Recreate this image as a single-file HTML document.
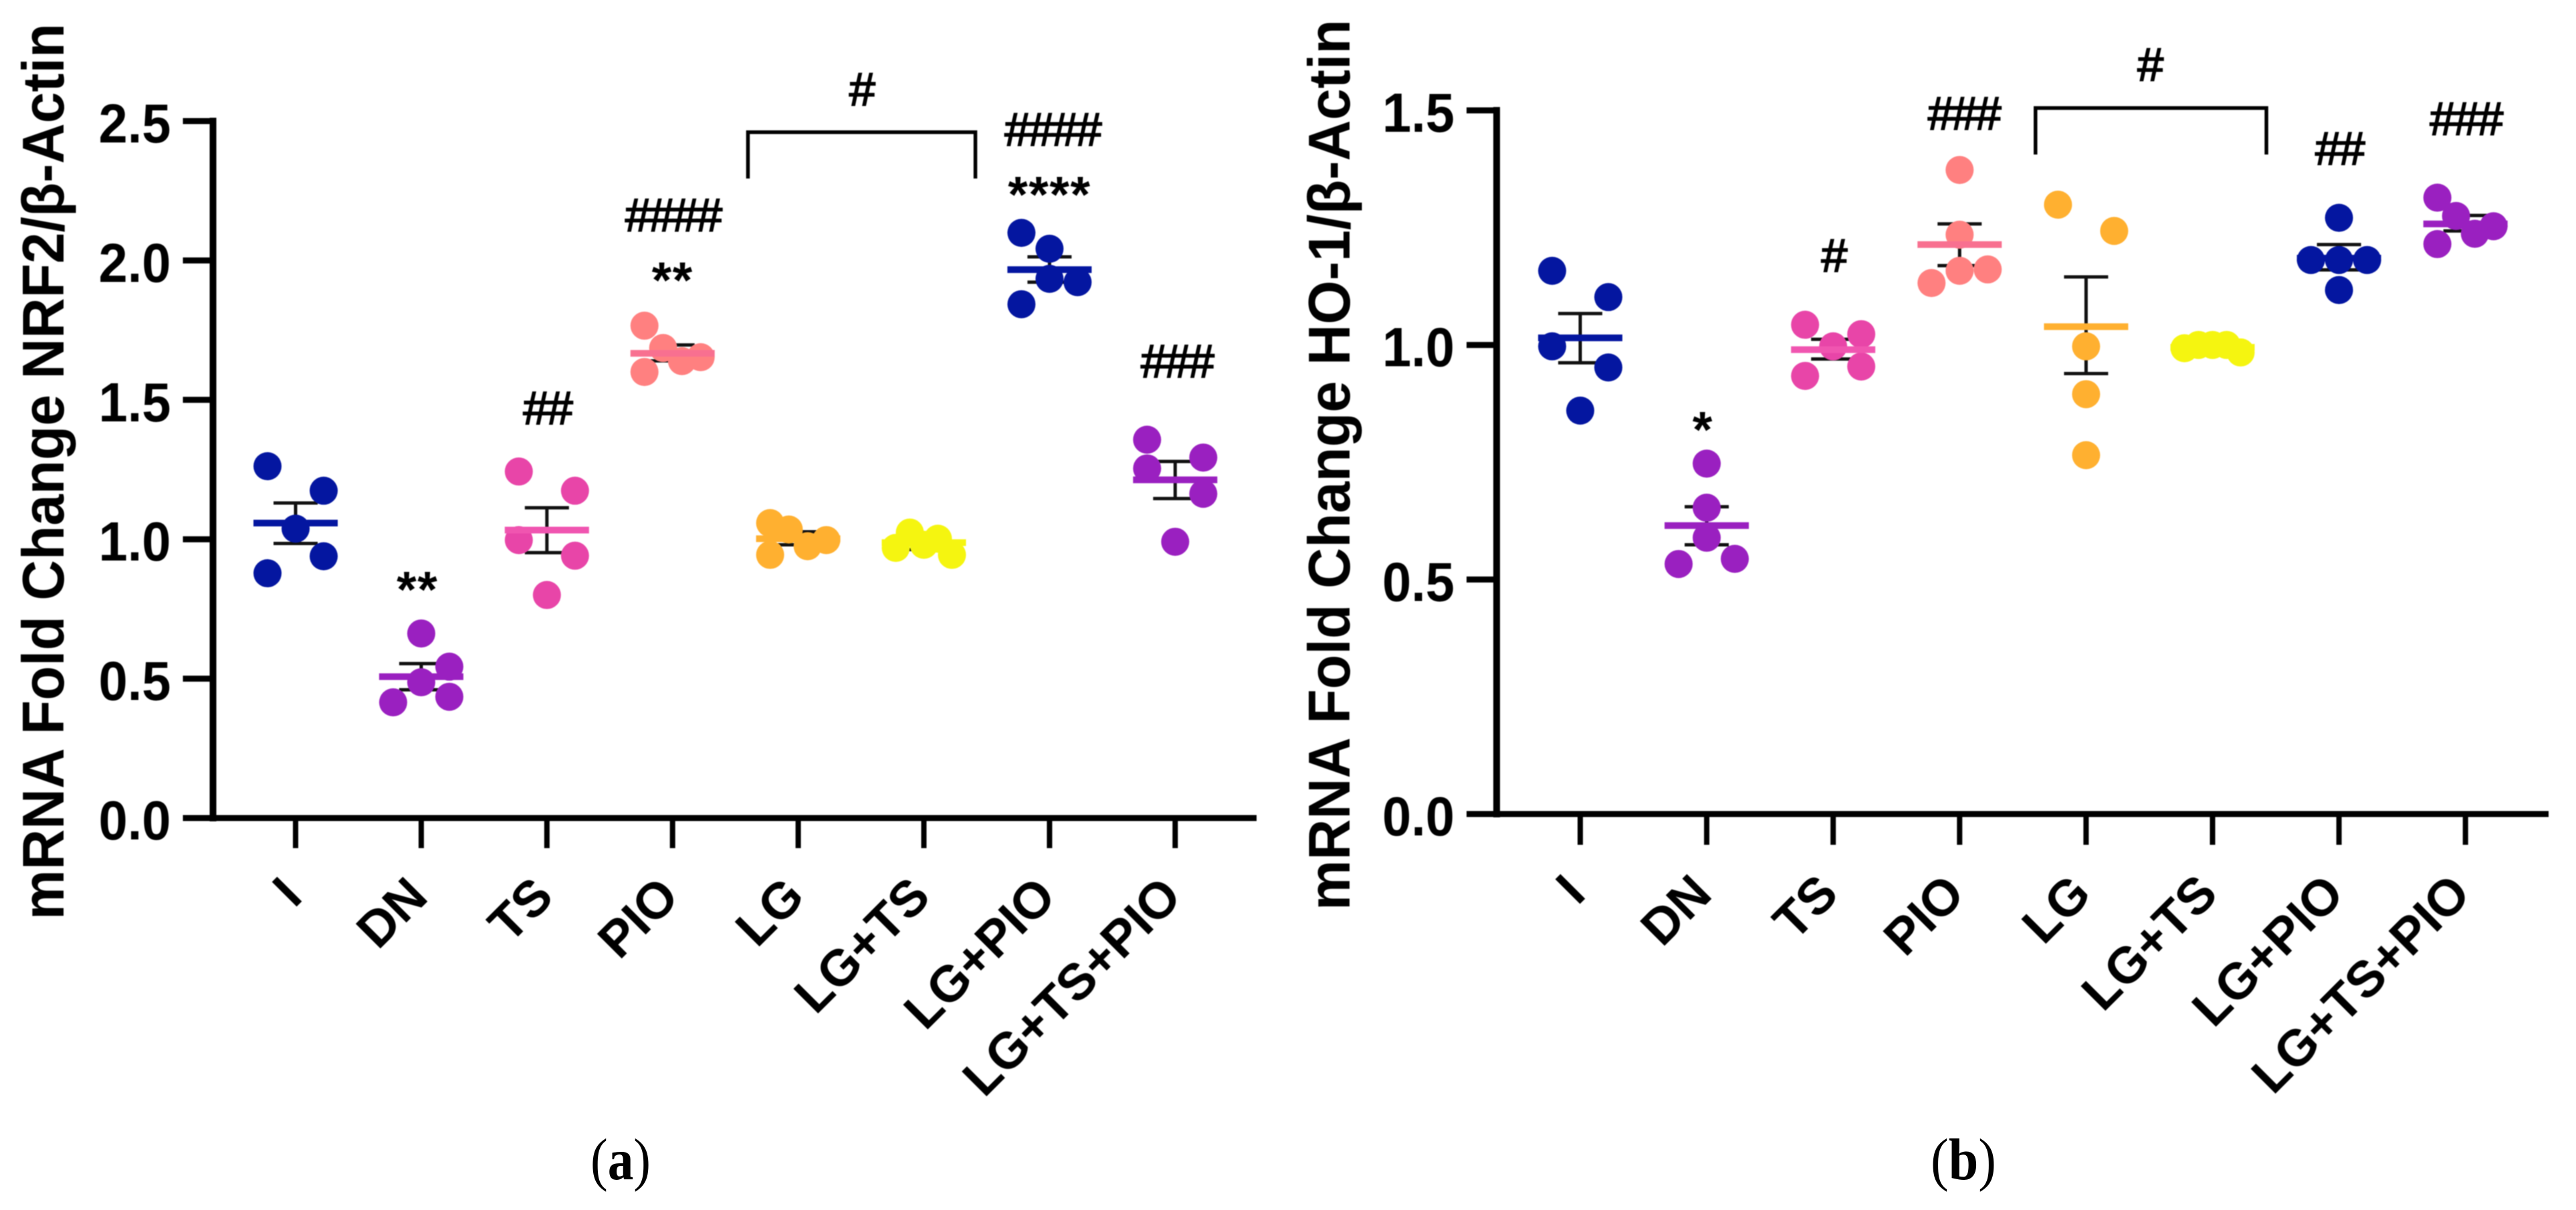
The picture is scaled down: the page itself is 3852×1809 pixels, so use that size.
<!DOCTYPE html>
<html lang="en">
<head>
<meta charset="utf-8">
<title>mRNA Fold Change Scatter Plots</title>
<style>
html,body{margin:0;padding:0;background:#fff;width:3852px;height:1809px;overflow:hidden}
svg{display:block}
text{font-family:"Liberation Sans",sans-serif;fill:#000}
.tick-label{font-weight:700;font-size:83px}
.cat-label{font-weight:700;font-size:76px}
.axis-title{font-weight:700;font-size:88px}
.hash{font-size:70px;stroke:#000;stroke-width:2px;letter-spacing:-3.5px}
.star{font-size:76px;font-weight:700;letter-spacing:1.5px}
.caption{font-family:"Liberation Serif",serif;font-size:88px}
</style>
</head>
<body>
<svg id="root" xmlns="http://www.w3.org/2000/svg" width="3852" height="1809" viewBox="0 0 3852 1809">
  <rect x="0" y="0" width="3852" height="1809" fill="#fff"/>
  <g id="panelA" style="filter:blur(0.9px)"></g>
  <g id="panelB" style="filter:blur(0.9px)"></g>
  <text class="caption" x="928" y="1763" text-anchor="middle" textLength="90" lengthAdjust="spacingAndGlyphs">(<tspan font-weight="700">a</tspan>)</text>
  <text class="caption" x="2936" y="1763" text-anchor="middle" textLength="98" lengthAdjust="spacingAndGlyphs">(<tspan font-weight="700">b</tspan>)</text>
</svg>
<script>
const categories = ['I','DN','TS','PIO','LG','LG+TS','LG+PIO','LG+TS+PIO'];
const groupColors = ['#0416a0','#9a20c0','#e845a8','#ff8080','#ffb030','#f5f510','#0416a0','#9a20c0'];
const meanColors = ['#0416a0','#9a20c0','#f055b0','#f87090','#ffb030','#f5f510','#0416a0','#9a20c0'];

// Panel (a): NRF2
const ticksA = [0,0.5,1,1.5,2,2.5];
const tickLabelsA = ['0.0','0.5','1.0','1.5','2.0','2.5'];
const valuesA = [
  [1.262,1.174,1.038,0.939,0.878],
  [0.662,0.543,0.487,0.435,0.415],
  [1.243,1.174,0.997,0.941,0.800],
  [1.766,1.686,1.653,1.639,1.600],
  [1.058,1.035,0.997,0.975,0.944],
  [1.024,1.002,0.969,0.980,0.944],
  [2.099,2.042,1.934,1.922,1.843],
  [1.357,1.293,1.254,1.163,0.991]
];
const slotsA = [
  [-2,2,0,2,-2],
  [0,2,0,2,-2],
  [-2,2,-2,2,0],
  [-2,-0.67,2,0.67,-2],
  [-2,-0.67,2,0.67,-2],
  [-1,1,-2,0,2],
  [-2,0,0,2,-2],
  [-2,2,-2,2,0]
];
const meansA = [1.058,0.507,1.033,1.667,1.002,0.988,1.967,1.213];
const semHighA = [1.130,0.554,1.113,1.697,1.027,1.010,2.013,1.279];
const semLowA = [0.985,0.460,0.952,1.640,0.980,0.963,1.922,1.146];
const markTextA = ['**','**','****','####','####','##','###','#'];
const markCatA = [0.97,3,6,3,6.02,2,7.01,4.5];
const markValA = [0.853,1.963,2.270,2.165,2.472,1.473,1.641,2.616];

// Panel (b): HO-1
const ticksB = [0,0.5,1,1.5];
const tickLabelsB = ['0.0','0.5','1.0','1.5'];
const valuesB = [
  [1.158,1.102,0.997,0.952,0.860],
  [0.747,0.653,0.589,0.544,0.533],
  [1.043,1.023,0.997,0.954,0.934],
  [1.373,1.235,1.161,1.158,1.132],
  [1.299,1.243,0.997,0.895,0.765],
  [0.993,1.000,1.000,1.000,0.984],
  [1.271,1.181,1.181,1.181,1.117],
  [1.314,1.275,1.253,1.237,1.215]
];
const slotsB = [
  [-2,2,-2,2,0],
  [0,0,0,2,-2],
  [-2,2,0,2,-2],
  [0,0,2,0,-2],
  [-2,2,0,0,0],
  [-2,-1,0,1,2],
  [0,-2,0,2,0],
  [-2,-0.67,2,0.67,-2]
];
const meansB = [1.015,0.615,0.990,1.214,1.039,0.995,1.185,1.258];
const semHighB = [1.067,0.655,1.012,1.258,1.145,1.005,1.214,1.276];
const semLowB = [0.962,0.574,0.970,1.169,0.939,0.985,1.160,1.243];
const markTextB = ['*','#','###','#','##','###'];
const markCatB = [0.97,2,3.03,4.5,6,7];
const markValB = [0.839,1.192,1.495,1.599,1.420,1.484];

const NS = 'http://www.w3.org/2000/svg';
function make(tag, attrs, parent, txt){
  const el = document.createElementNS(NS, tag);
  for (const k in attrs) el.setAttribute(k, attrs[k]);
  if (txt !== undefined) el.textContent = txt;
  parent.appendChild(el);
  return el;
}

function drawPanel(cfg){
  const g = document.getElementById(cfg.id);
  const xScale = i => cfg.x0 + i * cfg.xStep;
  const yScale = v => cfg.y0 - v * cfg.yUnit;
  const AX = cfg.axisX, BASE = yScale(0);

  // error bars behind everything
  categories.forEach((c,i) => {
    const cx = xScale(i);
    const hi = yScale(cfg.semHigh[i]), lo = yScale(cfg.semLow[i]);
    const stem = make('line',{x1:cx,x2:cx,y1:hi,y2:lo,stroke:'#111','stroke-width':5},g);
    
    
    const capT = make('line',{x1:cx-33,x2:cx+33,y1:hi,y2:hi,stroke:'#111','stroke-width':5},g);
    
    
    const capB = make('line',{x1:cx-33,x2:cx+33,y1:lo,y2:lo,stroke:'#111','stroke-width':5},g);
    
    
  });
  // dots and means
  categories.forEach((c,i) => {
    const cx = xScale(i);
    cfg.values[i].forEach((v,j) => {
      const dot = make('circle',{cx:cx + cfg.slots[i][j]*21, cy:yScale(v), r:21, fill:groupColors[i]},g);
      
      
    });
    const m = yScale(cfg.means[i]);
    const mean = make('line',{x1:cx-63,x2:cx+63,y1:m,y2:m,stroke:meanColors[i],'stroke-width':10},g);
    
    
  });

  // axes
  const yAxis = make('line',{x1:AX,x2:AX,y1:yScale(cfg.ticks[cfg.ticks.length-1])-5,y2:BASE+5,stroke:'#000','stroke-width':10},g);
  
  
  const xAxis = make('line',{x1:AX-45,x2:cfg.axisEnd,y1:BASE,y2:BASE,stroke:'#000','stroke-width':9},g);
  
  
  cfg.ticks.forEach((t,i) => {
    const y = yScale(t);
    const tick = make('line',{x1:AX-45,x2:AX,y1:y,y2:y,stroke:'#000','stroke-width':9},g);
    
    
    const lab = make('text',{class:'tick-label',x:AX-63,y:y+32,'text-anchor':'end',textLength:108,lengthAdjust:'spacingAndGlyphs'},g,cfg.tickLabels[i]);
    
    
  });
  categories.forEach((c,i) => {
    const x = xScale(i);
    const tick = make('line',{x1:x,x2:x,y1:BASE,y2:BASE+cfg.xTickLen,stroke:'#000','stroke-width':8},g);
    
    
    const ax = x + cfg.labelDx, ay = cfg.labelY;
    const lab = make('text',{class:'cat-label',x:ax,y:ay,'text-anchor':'end',transform:'rotate(-45 '+ax+' '+ay+')'},g,c);
    
    
  });

  // y axis title
  const title = make('text',{class:'axis-title',transform:'translate('+cfg.titleX+','+cfg.titleY+') rotate(-90)',x:0,y:0,textLength:cfg.titleLen,lengthAdjust:'spacingAndGlyphs'},g,cfg.title);
  
  

  // bracket
  const bx1 = xScale(cfg.bracket[0]), bx2 = xScale(cfg.bracket[1]);
  const bTop = yScale(cfg.bracket[2]), bBot = yScale(cfg.bracket[3]);
  const br = make('path',{d:'M'+bx1+' '+bBot+'V'+bTop+'H'+bx2+'V'+bBot,fill:'none',stroke:'#000','stroke-width':5.5},g);
  
  

  // significance marks
  cfg.markText.forEach((t,i) => {
    const isHash = t.charAt(0) === '#';
    const dy = isHash ? 25 : 40;
    const mark = make('text',{class:isHash?'hash':'star',x:xScale(cfg.markCat[i]),y:yScale(cfg.markVal[i])+dy,'text-anchor':'middle'},g,t);
    
    
  });
}

drawPanel({id:'panelA',x0:442,xStep:187.9,y0:1223,yUnit:416.8,axisX:318.5,axisEnd:1879,xTickLen:45,labelDx:13,labelY:1344,
  ticks:ticksA,tickLabels:tickLabelsA,values:valuesA,slots:slotsA,means:meansA,semHigh:semHighA,semLow:semLowA,
  markText:markTextA,markCat:markCatA,markVal:markValA,bracket:[3.6,5.41,2.46,2.294],
  title:'mRNA Fold Change NRF2/\u03b2-Actin',titleX:95,titleY:1375,titleLen:1340});
drawPanel({id:'panelB',x0:2363,xStep:189.1,y0:1217,yUnit:701.3,axisX:2238,axisEnd:3811,xTickLen:46,labelDx:11,labelY:1340,
  ticks:ticksB,tickLabels:tickLabelsB,values:valuesB,slots:slotsB,means:meansB,semHigh:semHighB,semLow:semLowB,
  markText:markTextB,markCat:markCatB,markVal:markValB,bracket:[3.6,5.426,1.505,1.406],
  title:'mRNA Fold Change HO-1/\u03b2-Actin',titleX:2018,titleY:1361,titleLen:1332});
</script>
</body>
</html>
